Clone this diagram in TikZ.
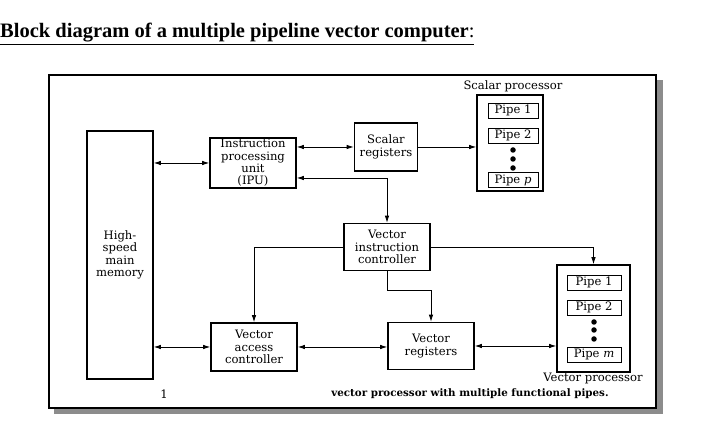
\documentclass[tikz,border=0pt]{standalone}
\usepackage{fontspec}
\setmainfont{Liberation Serif}
\newfontfamily\diagfont{DejaVu Serif}
\usetikzlibrary{arrows.meta}

\tikzset{
  block/.style={draw,line width=1.6pt,align=center,inner sep=0pt,
    font=\diagfont\fontsize{11.6}{12.3}\selectfont},
  pipebox/.style={draw,line width=0.6pt,inner sep=0pt,minimum width=50pt,minimum height=15pt,
    font=\diagfont\fontsize{11.6}{12}\selectfont},
  pipedot/.style={circle,fill,inner sep=0pt,minimum size=5.5pt},
  arr/.style={line width=0.8pt,-{Latex[length=7pt,width=4.5pt]}},
  dbl/.style={line width=0.8pt,{Latex[length=7pt,width=4.5pt]}-{Latex[length=7pt,width=4.5pt]}},
  lbl/.style={font=\diagfont\fontsize{11.6}{12}\selectfont,inner sep=0pt}
}

\begin{document}
\begin{tikzpicture}[x=1pt,y=-1pt]
\useasboundingbox (0,0) rectangle (716,430);

%title
\node[anchor=base west,inner sep=0pt,font=\fontsize{20.5}{22}\selectfont] (title) at (0,38)
  {\underline{\textbf{Block diagram of a multiple pipeline vector computer}:}};

%frame with shadow
\fill[black!45] (54,80) rectangle (663,414);
\filldraw[fill=white,line width=1.5pt] (49,75) rectangle (656,408);

%blocks
\node[block,minimum width=66pt,minimum height=248pt] (mem) at (120,255) {High-\\speed\\main\\memory};
\node[block,minimum width=86pt,minimum height=50pt] (ipu) at (253,163) {Instruction\\processing\\unit\\(IPU)};
\node[block,minimum width=63pt,minimum height=48pt] (sreg) at (386,147) {Scalar\\registers};
\node[block,minimum width=66pt,minimum height=96pt] (sp) at (510,143) {};
\node[block,minimum width=86pt,minimum height=47pt] (vic) at (387,247) {Vector\\instruction\\controller};
\node[block,minimum width=86pt,minimum height=48pt] (vac) at (254,347) {Vector\\access\\controller};
\node[block,minimum width=86pt,minimum height=47pt] (vreg) at (431,346) {Vector\\registers};
\node[block,minimum width=73pt,minimum height=107pt] (vp) at (593.5,318.5) {};

%scalar pipes
\node[pipebox] (sp1) at (513,110.5) {Pipe 1};
\node[pipebox] (sp2) at (513,135.5) {Pipe 2};
\node[pipebox] (spp) at (513,180) {Pipe \textit{p}};
\foreach \y in {150,159,168} \node[pipedot] at (513,\y) {};
\node[lbl] (splabel) at (513,86) {Scalar processor};

%vector pipes
\node[pipebox,minimum width=54pt] (vp1) at (594,282.5) {Pipe 1};
\node[pipebox,minimum width=54pt] (vp2) at (594,307.5) {Pipe 2};
\node[pipebox,minimum width=54pt] (vpm) at (594,354.5) {Pipe \textit{m}};
\foreach \y in {322,330,339} \node[pipedot] at (594,\y) {};
\node[lbl] (vplabel) at (593,378) {Vector processor};

%arrows
\draw[dbl] (mem.east |- ipu) -- (ipu.west);
\draw[dbl] (ipu.east |- sreg) -- (sreg.west);
\draw[arr] (sreg.east) -- (sp.west |- sreg);
\draw[dbl] (ipu.east |- 0,178) -| (vic.north);
\draw[arr] (vic.west) -| (vac.north);
\draw[arr] (vic.east) -| (vp.north);
\draw[arr] (vic.south) -- ++(0,19) -| (vreg.north);
\draw[dbl] (mem.east |- vac) -- (vac.west);
\draw[dbl] (vac.east) -- (vreg.west |- vac.east);
\draw[dbl] (vreg.east) -- (vp.west |- vreg.east);

%caption
\node[lbl] (mark) at (164,394) {1};
\node[lbl,font=\diagfont\bfseries\fontsize{10.3}{12}\selectfont] (caption) at (470,394)
  {vector processor with multiple functional pipes.};
\end{tikzpicture}
\end{document}
